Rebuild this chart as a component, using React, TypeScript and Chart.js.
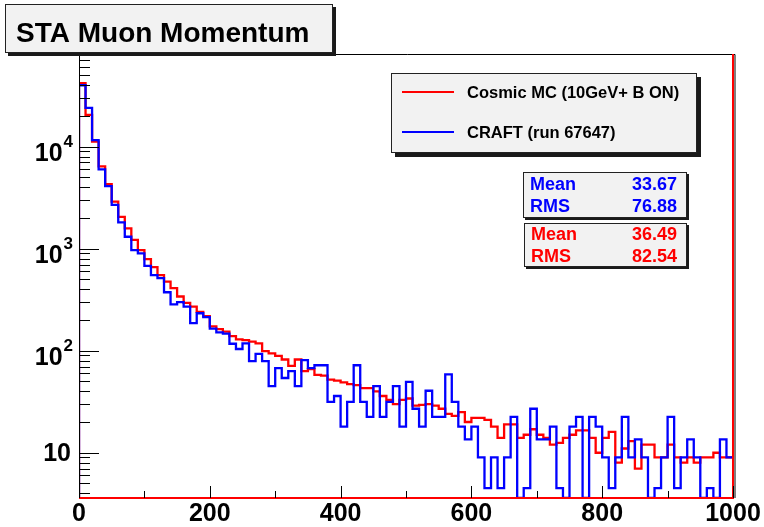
import React, { useEffect, useRef } from 'react';
import { Chart, registerables } from 'chart.js';

Chart.register(...registerables);

// ---------------- data ----------------
const X_MIN = 0;
const X_MAX = 1000;
const BIN_WIDTH = 10;
const Y_MIN = 3.6;
const Y_MAX = 81000;

const titleText = 'STA Muon Momentum';

// Cosmic MC (10GeV+ B ON), 100 bins of 10 GeV
const mcCounts: number[] = [
  42000, 20500, 11200, 6400, 4300, 2890, 2050, 1580, 1220, 970,
  790, 660, 550, 475, 410, 340, 295, 270, 240, 218,
  173, 163, 154, 139, 129, 127, 123, 118, 99, 94,
  89, 82, 71, 82, 63, 66, 58, 57, 52, 51,
  49, 47, 46, 43, 43, 40, 36, 33, 30, 33,
  34, 29, 29.5, 30, 29, 27, 24, 23, 25, 20,
  22, 22, 21, 18, 14, 19, 19, 14, 15, 17,
  15, 14, 12, 12.5, 14, 15, 16.6, 16.6, 14, 10,
  14, 16, 8, 11, 13, 7, 12, 12, 9, 9,
  12, 9, 8, 9, 8, 9, 9, 10, 9, 9,
];

// CRAFT (run 67647), 100 bins of 10 GeV
const craftCounts: number[] = [
  40000, 24000, 11600, 6000, 4100, 2690, 1810, 1310, 970, 900,
  680, 550, 515, 374, 285, 300, 270, 186, 233, 213,
  165, 151, 147, 117, 104, 118, 79, 93, 79, 45,
  67.5, 54, 63, 45, 81, 67.5, 72, 72, 31.5, 36,
  18, 31.5, 72, 31.5, 22.5, 45, 22.5, 31.5, 45, 18,
  49.5, 27, 18, 40.5, 22.5, 22.5, 58.5, 31.5, 18, 13.5,
  18, 9, 4.5, 9, 4.5, 9, 22.5, 0, 4.5, 27,
  13.5, 13.5, 18, 4.5, 0, 18, 22.5, 0, 22.5, 18,
  9, 4.5, 9, 22.5, 9, 13.5, 9, 0, 4.5, 9,
  22.5, 4.5, 9, 13.5, 9, 0, 4.5, 0, 13.5, 9,
];

const xMajorTicks: number[] = [0, 200, 400, 600, 800, 1000];
const xTickLabels: string[] = ['0', '200', '400', '600', '800', '1000'];
const xMinorTicks: number[] = [100, 300, 500, 700, 900];

const yDecades: number[] = [10, 100, 1000, 10000];
const yDecadeExponents: string[] = ['', '2', '3', '4'];

const legendLabels: string[] = ['Cosmic MC (10GeV+ B ON)', 'CRAFT (run 67647)'];
const legendColors: string[] = ['#ff0000', '#0000ff'];

const statsNames: string[] = ['Mean', 'RMS'];
const craftStats: string[] = ['33.67', '76.88'];
const mcStats: string[] = ['36.49', '82.54'];

// ---------------- helpers ----------------
function histPoints(counts: number[]) {
  const pts: { x: number; y: number }[] = [];
  pts.push({ x: X_MIN, y: Y_MIN });
  counts.forEach((c, i) => {
    const v = c > Y_MIN ? c : Y_MIN;
    pts.push({ x: X_MIN + i * BIN_WIDTH, y: v });
    pts.push({ x: X_MIN + (i + 1) * BIN_WIDTH, y: v });
  });
  return pts;
}

const FONT = '"Liberation Sans", Arial, Helvetica, sans-serif';

function drawBox(ctx: CanvasRenderingContext2D, x1: number, y1: number, x2: number, y2: number, shadow: number) {
  ctx.fillStyle = '#1a1a1a';
  ctx.fillRect(x1 + shadow, y1 + shadow, x2 - x1, y2 - y1);
  ctx.fillStyle = '#f2f2f2';
  ctx.fillRect(x1, y1, x2 - x1, y2 - y1);
  ctx.strokeStyle = '#222';
  ctx.lineWidth = 1;
  ctx.strokeRect(x1 + 0.5, y1 + 0.5, x2 - x1 - 1, y2 - y1 - 1);
}

const rootPlugin = {
  id: 'rootStyle',
  afterDatasetsDraw(chart: any) {
    const ctx: CanvasRenderingContext2D = chart.ctx;
    const a = chart.chartArea;
    const xs = chart.scales.x;
    const ys = chart.scales.y;
    ctx.save();

    // frame
    ctx.strokeStyle = '#000';
    ctx.lineWidth = 1;
    ctx.beginPath();
    ctx.moveTo(a.left + 0.5, a.bottom);
    ctx.lineTo(a.left + 0.5, a.top + 0.5);
    ctx.lineTo(a.right + 2, a.top + 0.5);
    ctx.lineTo(a.right + 2, a.bottom);
    ctx.stroke();

    // red histogram boundary (bottom and right edges)
    ctx.strokeStyle = '#ff0000';
    ctx.lineWidth = 2;
    ctx.beginPath();
    ctx.moveTo(a.left, a.bottom);
    ctx.lineTo(a.right, a.bottom);
    ctx.lineTo(a.right, a.top);
    ctx.stroke();

    // y ticks
    ctx.strokeStyle = '#000';
    ctx.lineWidth = 1;
    ctx.beginPath();
    for (let e = 0; e <= 5; e++) {
      const dec = Math.pow(10, e);
      for (let m = 1; m <= 9; m++) {
        const v = m * dec;
        if (v < Y_MIN || v > Y_MAX) continue;
        const y = Math.round(ys.getPixelForValue(v)) + 0.5;
        const len = m === 1 ? 20 : 11;
        ctx.moveTo(a.left, y);
        ctx.lineTo(a.left + len, y);
      }
    }
    // x ticks
    xMajorTicks.forEach((v) => {
      const x = Math.round(xs.getPixelForValue(v)) + 0.5;
      ctx.moveTo(x, a.bottom);
      ctx.lineTo(x, a.bottom - 12);
    });
    xMinorTicks.forEach((v) => {
      const x = Math.round(xs.getPixelForValue(v)) + 0.5;
      ctx.moveTo(x, a.bottom);
      ctx.lineTo(x, a.bottom - 7);
    });
    ctx.stroke();

    // x labels
    ctx.fillStyle = '#000';
    ctx.font = `bold 25px ${FONT}`;
    ctx.textAlign = 'center';
    ctx.textBaseline = 'middle';
    xMajorTicks.forEach((v, i) => {
      ctx.fillText(xTickLabels[i], xs.getPixelForValue(v), a.bottom + 16);
    });

    // y labels
    yDecades.forEach((v, i) => {
      const y = ys.getPixelForValue(v);
      const exp = yDecadeExponents[i];
      const right = a.left - 6;
      if (!exp) {
        ctx.font = `bold 25px ${FONT}`;
        ctx.textAlign = 'right';
        ctx.textBaseline = 'middle';
        ctx.fillText('10', right - 2, y + 1);
      } else {
        ctx.font = `bold 17px ${FONT}`;
        ctx.textAlign = 'right';
        ctx.textBaseline = 'middle';
        const ew = ctx.measureText(exp).width;
        ctx.fillText(exp, right, y - 4);
        ctx.font = `bold 25px ${FONT}`;
        ctx.fillText('10', right - ew - 1, y + 7);
      }
    });

    // title box
    drawBox(ctx, 5, 4, 333, 53, 3);
    ctx.fillStyle = '#000';
    ctx.font = `bold 28px ${FONT}`;
    ctx.textAlign = 'left';
    ctx.textBaseline = 'middle';
    ctx.fillText(titleText, 16, 34);

    // legend
    drawBox(ctx, 391, 73, 697, 153, 4);
    const legY = [92, 132];
    legendLabels.forEach((lab, i) => {
      ctx.strokeStyle = legendColors[i];
      ctx.lineWidth = 2;
      ctx.beginPath();
      ctx.moveTo(402, legY[i]);
      ctx.lineTo(454, legY[i]);
      ctx.stroke();
      ctx.fillStyle = '#000';
      ctx.font = `bold 16.5px ${FONT}`;
      ctx.textAlign = 'left';
      ctx.textBaseline = 'middle';
      ctx.fillText(lab, 467, legY[i] + 1);
    });

    // stats boxes
    const drawStats = (x1: number, y1: number, x2: number, y2: number, vals: string[], color: string, rows: number[]) => {
      drawBox(ctx, x1, y1, x2, y2, 2);
      ctx.fillStyle = color;
      ctx.font = `bold 18px ${FONT}`;
      ctx.textBaseline = 'middle';
      statsNames.forEach((n, i) => {
        ctx.textAlign = 'left';
        ctx.fillText(n, x1 + 7, rows[i]);
        ctx.textAlign = 'right';
        ctx.fillText(vals[i], x2 - 10, rows[i]);
      });
    };
    drawStats(523, 172, 687, 218, craftStats, '#0000ff', [185, 207]);
    drawStats(524, 223, 687, 267, mcStats, '#ff0000', [235.5, 257]);

    ctx.restore();
  },
};

export default function App() {
  const ref = useRef<HTMLCanvasElement | null>(null);

  useEffect(() => {
    if (!ref.current) return;
    const chart = new Chart(ref.current, {
      type: 'line',
      data: {
        datasets: [
          {
            label: legendLabels[0],
            data: histPoints(mcCounts),
            borderColor: '#ff0000',
            borderWidth: 2.3,
            pointRadius: 0,
            tension: 0,
            fill: false,
            order: 2,
          },
          {
            label: legendLabels[1],
            data: histPoints(craftCounts),
            borderColor: '#0000ff',
            borderWidth: 2.3,
            pointRadius: 0,
            tension: 0,
            fill: false,
            order: 1,
          },
        ],
      },
      options: {
        responsive: false,
        animation: false,
        devicePixelRatio: 1,
        parsing: false,
        layout: { padding: { left: 79, top: 54, right: 31, bottom: 29 } },
        plugins: {
          legend: { display: false },
          tooltip: { enabled: false },
          title: { display: false },
        },
        scales: {
          x: { type: 'linear', min: X_MIN, max: X_MAX, display: false },
          y: { type: 'logarithmic', min: Y_MIN, max: Y_MAX, display: false },
        },
      },
      plugins: [rootPlugin],
    });
    return () => chart.destroy();
  }, []);

  return (
    <div style={{ position: 'fixed', left: 0, top: 0, width: 764, height: 527, background: '#fff' }}>
      <canvas ref={ref} width={764} height={527} style={{ width: 764, height: 527, display: 'block' }} />
    </div>
  );
}
